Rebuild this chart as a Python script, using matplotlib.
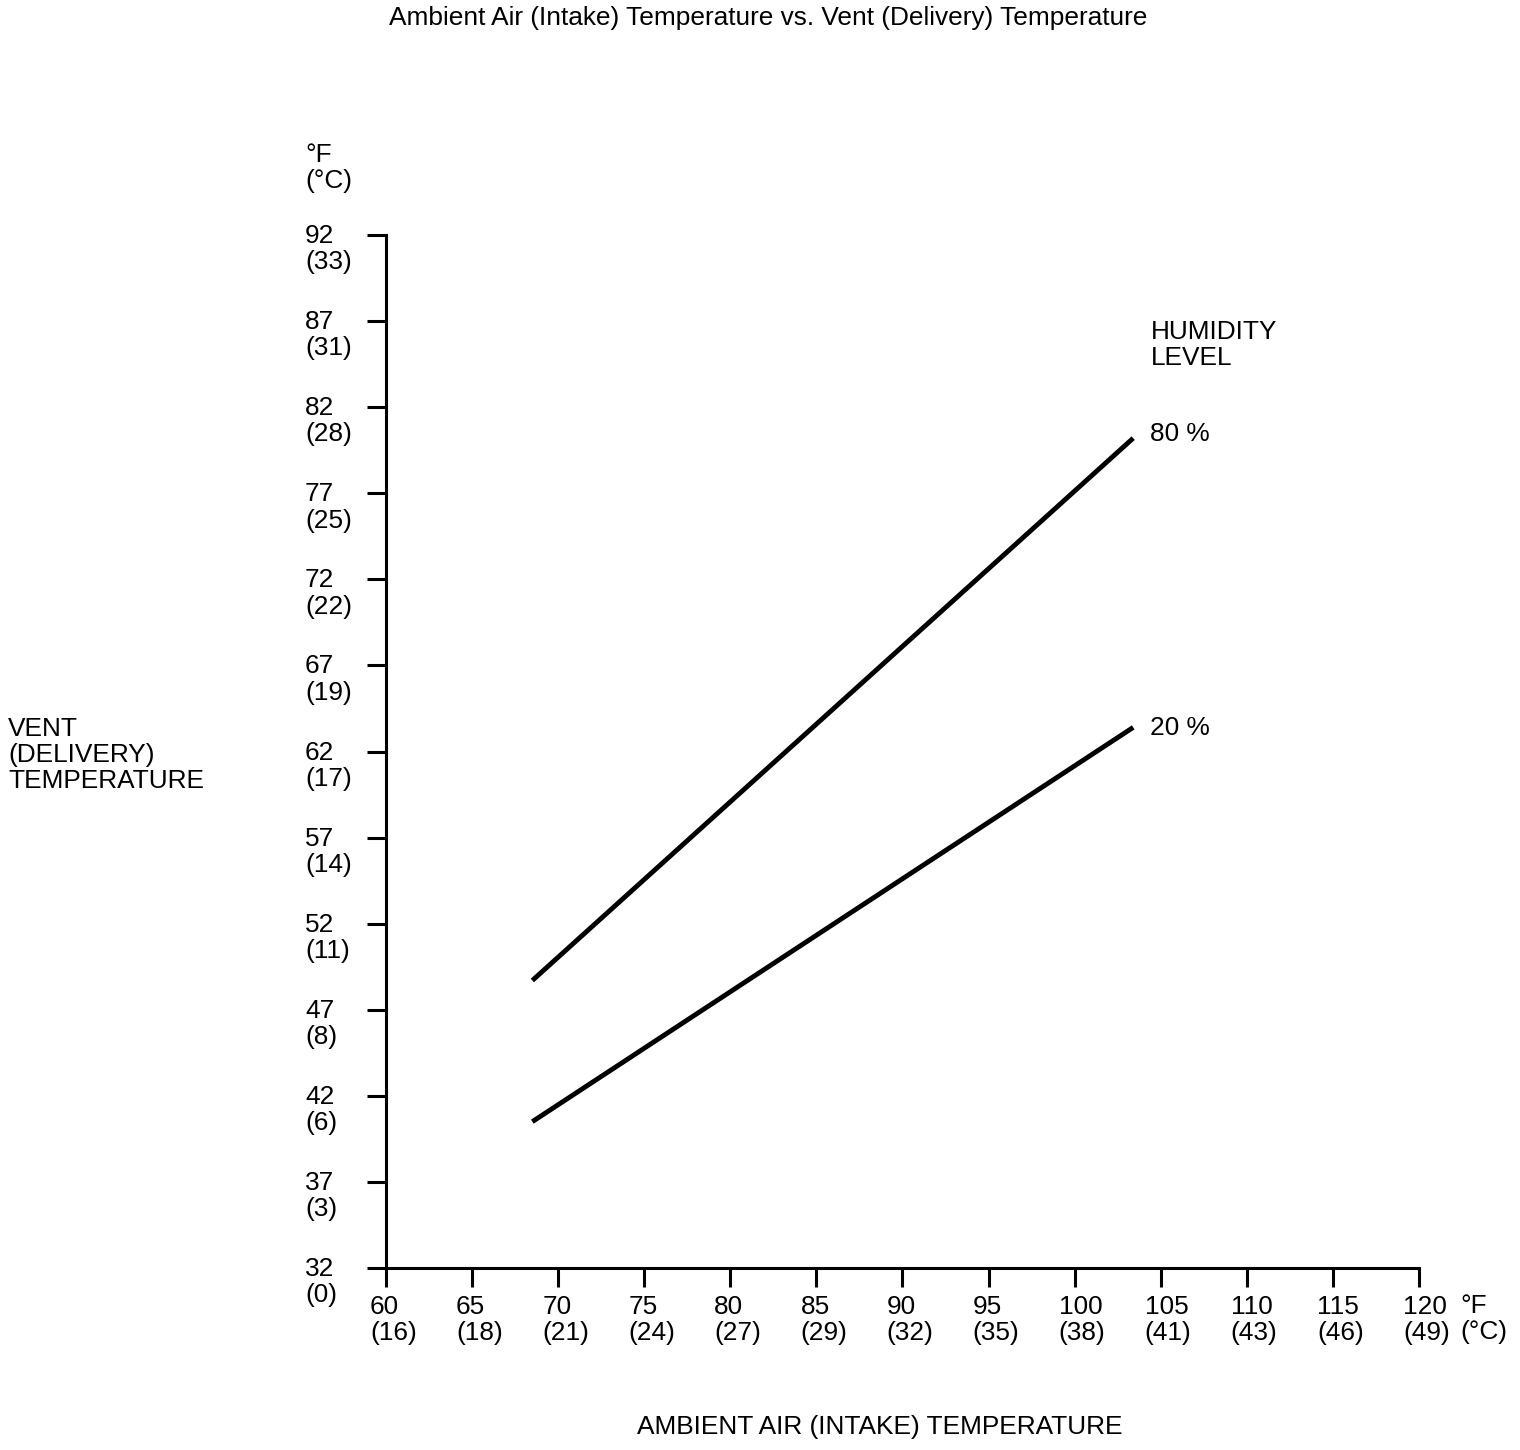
import matplotlib
matplotlib.use("Agg")
import matplotlib.pyplot as plt
from matplotlib.transforms import blended_transform_factory, offset_copy

W, H = 1520, 1450
FONT = 18.9
LS = 1.12

# ambient (intake) temperature ticks, degF and degC
x_ticks_f = [60, 65, 70, 75, 80, 85, 90, 95, 100, 105, 110, 115, 120]
x_ticks_c = [16, 18, 21, 24, 27, 29, 32, 35, 38, 41, 43, 46, 49]
# vent (delivery) temperature ticks, degF and degC
y_ticks_f = [32, 37, 42, 47, 52, 57, 62, 67, 72, 77, 82, 87, 92]
y_ticks_c = [0, 3, 6, 8, 11, 14, 17, 19, 22, 25, 28, 31, 33]

# humidity lines (ambient degF -> vent degF)
ambient = [68.5, 103.4]
vent_80 = [48.7, 80.2]
vent_20 = [40.5, 63.4]

plt.rcParams["font.family"] = ["Liberation Sans", "DejaVu Sans"]
plt.rcParams["font.size"] = FONT


def px(x, y):
    return x / W, 1 - y / H


fig = plt.figure(figsize=(W / 100, H / 100), dpi=100)
ax = fig.add_axes([386 / W, (H - 1268) / H, 1033 / W, 1033 / H])

ax.plot(ambient, vent_80, color="black", lw=3.5, solid_capstyle="butt")
ax.plot(ambient, vent_20, color="black", lw=3.5, solid_capstyle="butt")

ax.set_xlim(60, 120)
ax.set_ylim(32, 92)
for s in ["top", "right"]:
    ax.spines[s].set_visible(False)
for s in ["left", "bottom"]:
    ax.spines[s].set_linewidth(2.2)
ax.set_xticks(x_ticks_f)
ax.set_yticks(y_ticks_f)
ax.tick_params(length=13.5, width=2.2, color="black",
               labelbottom=False, labelleft=False)

# tick labels: degF on first line, degC in brackets below
xt = offset_copy(blended_transform_factory(ax.transData, ax.transAxes),
                 fig=fig, x=-16, y=-27, units="dots")
for f, c in zip(x_ticks_f, x_ticks_c):
    ax.text(f, 0, f"{f}\n({c})", transform=xt, ha="left", va="top",
            linespacing=LS, clip_on=False)

yt = offset_copy(blended_transform_factory(ax.transAxes, ax.transData),
                 fig=fig, x=-81, y=11, units="dots")
for f, c in zip(y_ticks_f, y_ticks_c):
    ax.text(0, f, f"{f}\n({c})", transform=yt, ha="left", va="top",
            linespacing=LS, clip_on=False)

# unit labels
fig.text(*px(305, 143), "°F\n(°C)", ha="left", va="top", linespacing=LS)
fig.text(*px(1460, 1294), "°F\n(°C)", ha="left", va="top", linespacing=LS)

# humidity annotations
ax.text(104.4, 85.6, "HUMIDITY\nLEVEL", ha="left", va="center", linespacing=LS)
ax.annotate("80 %", xy=(ambient[1], vent_80[1]), xytext=(17, 4),
            textcoords="offset pixels", ha="left", va="center")
ax.annotate("20 %", xy=(ambient[1], vent_20[1]), xytext=(17, -1),
            textcoords="offset pixels", ha="left", va="center")

fig.text(*px(8, 755), "VENT\n(DELIVERY)\nTEMPERATURE", ha="left", va="center",
         linespacing=LS)
fig.text(*px(880, 1427), "AMBIENT AIR (INTAKE) TEMPERATURE", ha="center", va="center")
fig.text(*px(768, 18), "Ambient Air (Intake) Temperature vs. Vent (Delivery) Temperature",
         ha="center", va="center")

fig.savefig("out.png", dpi=100, facecolor="white")
